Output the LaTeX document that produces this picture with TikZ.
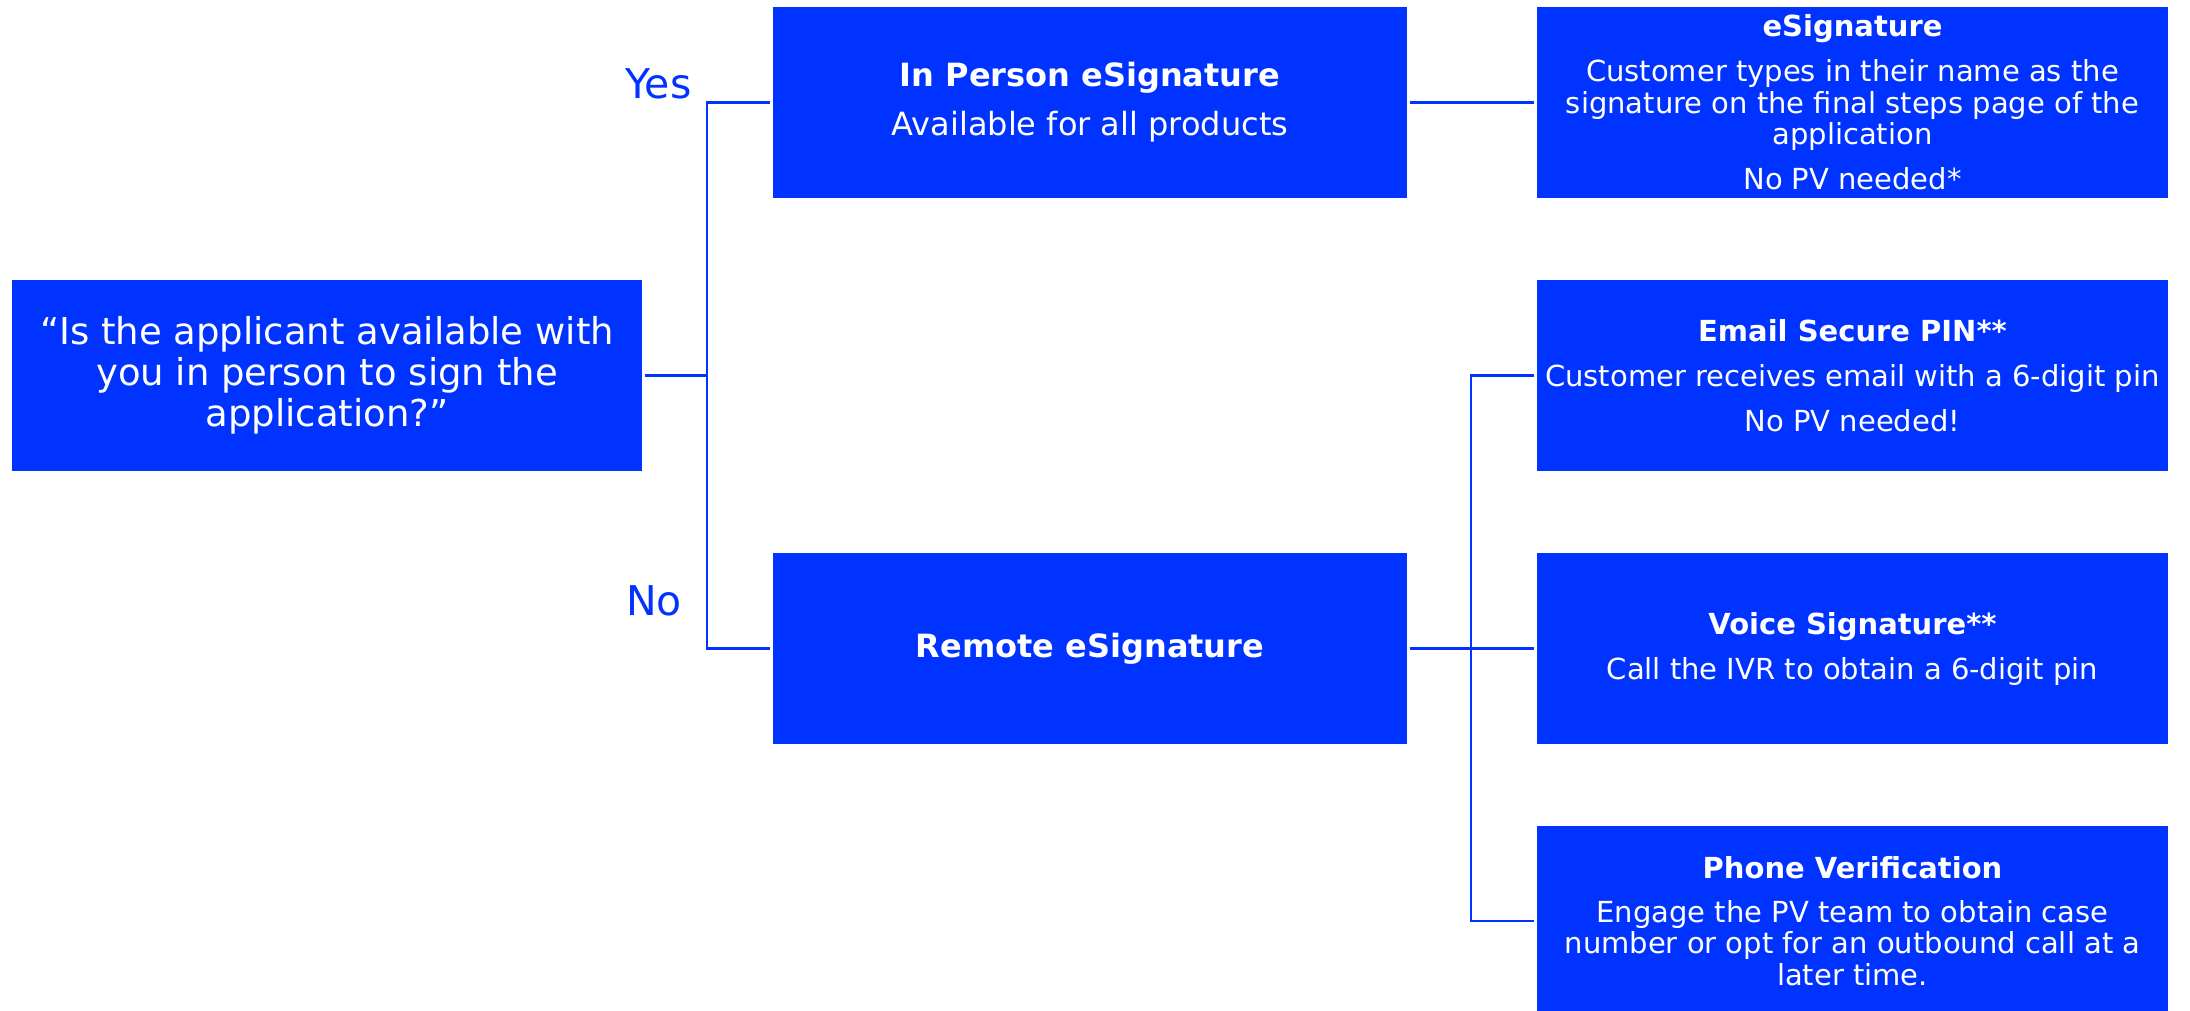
\documentclass[tikz,border=0pt]{standalone}
\usepackage{fontspec}
\setmainfont{DejaVu Sans}
\definecolor{myblue}{RGB}{0,51,255}
\begin{document}
\begin{tikzpicture}[x=1pt,y=-1pt,
  box/.style={fill=myblue,text=white,inner sep=0pt,outer sep=3pt,align=center,minimum height=191pt},
  lcol/.style={box,minimum width=634pt},
  rcol/.style={box,minimum width=631pt},
  conn/.style={draw=myblue,line width=2.4pt},
  lbl/.style={text=myblue,font=\fontsize{41}{41}\selectfont,inner sep=0pt}]
\fill[white] (0,0) rectangle (2190,1011);
\useasboundingbox (0,0) rectangle (2190,1011);

\node[box,minimum width=630pt,font=\fontsize{37}{41}\selectfont] (q) at (327,375.5)
  {“Is the applicant available with\\ you in person to sign the\\ application?”};

\node[lcol,font=\fontsize{32}{49}\selectfont] (inp) at (1090,102.5)
  {\textbf{In Person eSignature}\\ Available for all products};
\node[lcol,font=\fontsize{32}{40}\selectfont] (rem) at (1090,648.5)
  {\textbf{Remote eSignature}};

\node[rcol,font=\fontsize{29}{31.5}\selectfont] (esig) at (1852.5,102.5)
  {\textbf{eSignature}\\[13.5pt] Customer types in their name as the\\ signature on the final steps page of the\\ application\\[13.5pt] No PV needed*};
\node[rcol,font=\fontsize{29}{45}\selectfont] (email) at (1852.5,375.5)
  {\textbf{Email Secure PIN**}\\ Customer receives email with a 6-digit pin\\ No PV needed!};
\node[rcol,font=\fontsize{29}{45}\selectfont] (voice) at (1852.5,648.5)
  {\textbf{Voice Signature**}\\ Call the IVR to obtain a 6-digit pin};
\node[rcol,minimum height=190pt,font=\fontsize{29}{31.5}\selectfont] (phone) at (1852.5,921)
  {\textbf{Phone Verification}\\[12.5pt] Engage the PV team to obtain case\\ number or opt for an outbound call at a\\ later time.};

\node[lbl,anchor=base west] (yes) at (625,99) {Yes};
\node[lbl,anchor=base west] (no) at (626,615) {No};

\coordinate (j1) at (707,375.5);
\coordinate (j2) at (1471,648.5);
\draw[conn] (q.east) -- (j1);
\draw[conn] (inp.west) -| (j1) |- (rem.west);
\draw[conn] (inp.east) -- (esig.west);
\draw[conn] (rem.east) -- (voice.west);
\draw[conn] (email.west) -| (j2) |- (phone.west);
\end{tikzpicture}
\end{document}
